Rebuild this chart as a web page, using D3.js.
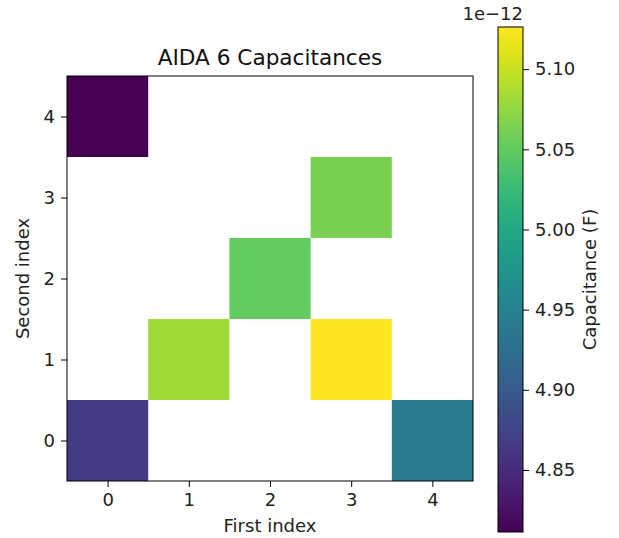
<!DOCTYPE html>
<html>
<head>
<meta charset="utf-8">
<script src="https://cdn.jsdelivr.net/npm/d3@7"></script>
<style>
  body { margin: 0; background: #fff; }
  svg { display: block; font-family: "DejaVu Sans", sans-serif; }
  svg text { font-family: "DejaVu Sans", sans-serif; }
</style>
</head>
<body>
<svg id="chart" width="619" height="538"></svg>
<script>
// Measured capacitance per (first, second) index pair, in farads ×1e-12
const firstIndex  = [0, 1, 2, 3, 3, 0, 4];
const secondIndex = [4, 1, 2, 3, 1, 0, 0];
const capacitance = [4.8113, 5.082, 5.051, 5.063, 5.1263, 4.865, 4.937];
const indexTicks = [0, 1, 2, 3, 4];
const cbarTicks = [4.85, 4.90, 4.95, 5.00, 5.05, 5.10];

const svg = d3.select("#chart");
const plot = { left: 67, right: 473, top: 76, bottom: 481 };
const cbar = { left: 498, right: 523, top: 27, bottom: 532 };
const FS = 18;

const x = d3.scaleLinear().domain([-0.5, 4.5]).range([plot.left, plot.right]);
const y = d3.scaleLinear().domain([-0.5, 4.5]).range([plot.bottom, plot.top]);

const vmin = d3.min(capacitance), vmax = d3.max(capacitance);
const color = d3.scaleSequential(d3.interpolateViridis).domain([vmin, vmax]);

// Heatmap cells
const cells = capacitance.map((v, i) => ({ fx: firstIndex[i], sy: secondIndex[i], v }));
svg.append("g").selectAll("rect").data(cells).join("rect")
  .attr("x", d => x(d.fx - 0.5))
  .attr("y", d => y(d.sy + 0.5))
  .attr("width", d => x(d.fx + 0.5) - x(d.fx - 0.5))
  .attr("height", d => y(d.sy - 0.5) - y(d.sy + 0.5))
  .attr("fill", d => color(d.v));

// Axes
const xAxis = d3.axisBottom(x).tickValues(indexTicks).tickSize(6).tickPadding(6).tickFormat(d3.format("d"));
const yAxis = d3.axisLeft(y).tickValues(indexTicks).tickSize(6).tickPadding(6).tickFormat(d3.format("d"));

function styleAxis(g) {
  g.attr("font-family", "DejaVu Sans, sans-serif").attr("font-size", FS);
  g.select(".domain").remove();
  g.selectAll(".tick line").attr("stroke", "#000").attr("stroke-width", 1);
  g.selectAll(".tick text").attr("fill", "#222");
}
const gx = svg.append("g").attr("transform", `translate(0,${plot.bottom})`).call(xAxis).call(styleAxis);
const gy = svg.append("g").attr("transform", `translate(${plot.left},0)`).call(yAxis).call(styleAxis);

// Frame
svg.append("rect")
  .attr("x", plot.left).attr("y", plot.top)
  .attr("width", plot.right - plot.left).attr("height", plot.bottom - plot.top)
  .attr("fill", "none").attr("stroke", "#000").attr("stroke-width", 1);

// Titles
svg.append("text").attr("x", (plot.left + plot.right) / 2).attr("y", 65)
  .attr("text-anchor", "middle").style("font-size", "21.6px").attr("fill", "#111")
  .text("AIDA 6 Capacitances");
svg.append("text").attr("x", (plot.left + plot.right) / 2).attr("y", 532)
  .attr("text-anchor", "middle").style("font-size", FS + "px").attr("fill", "#222")
  .text("First index");
svg.append("text")
  .attr("transform", `translate(29,${(plot.top + plot.bottom) / 2}) rotate(-90)`)
  .attr("text-anchor", "middle").style("font-size", FS + "px").attr("fill", "#222")
  .text("Second index");

// Colorbar
const cy = d3.scaleLinear().domain([vmin, vmax]).range([cbar.bottom, cbar.top]);
const defs = svg.append("defs");
const grad = defs.append("linearGradient").attr("id", "viridis-grad")
  .attr("x1", 0).attr("y1", 1).attr("x2", 0).attr("y2", 0);
d3.range(0, 1.0001, 0.02).forEach(t => {
  grad.append("stop").attr("offset", t).attr("stop-color", d3.interpolateViridis(t));
});
svg.append("rect")
  .attr("x", cbar.left).attr("y", cbar.top)
  .attr("width", cbar.right - cbar.left).attr("height", cbar.bottom - cbar.top)
  .attr("fill", "url(#viridis-grad)").attr("stroke", "#000").attr("stroke-width", 1);

const cAxis = d3.axisRight(cy).tickValues(cbarTicks).tickSize(6).tickPadding(6).tickFormat(d3.format(".2f"));
svg.append("g").attr("transform", `translate(${cbar.right},0)`).call(cAxis).call(styleAxis);

svg.append("text").attr("x", cbar.right).attr("y", 20)
  .attr("text-anchor", "end").style("font-size", FS + "px").attr("fill", "#222")
  .text("1e\u221212");
svg.append("text")
  .attr("transform", `translate(596,${(cbar.top + cbar.bottom) / 2}) rotate(-90)`)
  .attr("text-anchor", "middle").style("font-size", FS + "px").attr("fill", "#222")
  .text("Capacitance (F)");
</script>
</body>
</html>
